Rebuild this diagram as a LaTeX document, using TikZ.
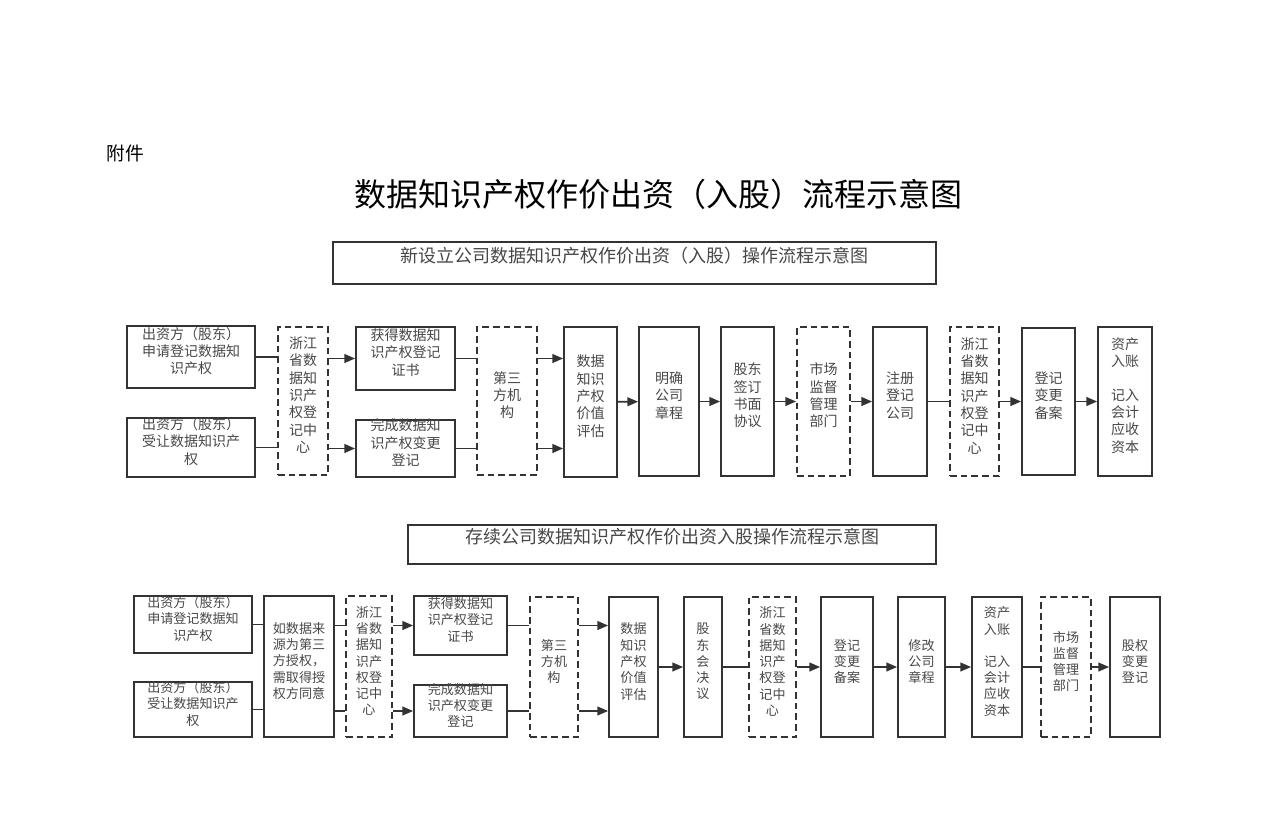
\documentclass[tikz,border=0pt]{standalone}
\usepackage{fontspec}
\setmainfont{Noto Sans CJK SC}
\usetikzlibrary{fit,arrows.meta}
\definecolor{ln}{HTML}{333333}
\begin{document}
\begin{tikzpicture}[x=0.75pt,y=-0.75pt,
 box/.style={draw=ln,line width=1.3pt,inner sep=0pt,align=center,font=\fontsize{10.5}{13}\selectfont,text=ln!90},
 dbox/.style={box,dashed,dash pattern=on 5pt off 3pt},
 sbox/.style={box,font=\fontsize{9.8}{12.2}\selectfont},
 sdbox/.style={dbox,font=\fontsize{9.8}{12.2}\selectfont},
 ln/.style={draw=ln,line width=1.3pt},
 arr/.style={ln,-{Triangle[length=8pt,width=6.5pt]}}]
\useasboundingbox (0,0) rectangle (1273,834);
\node[anchor=west,font=\fontsize{14}{16}\selectfont] (fj) at (102,153) {附件};
\node[font=\fontsize{24}{28}\selectfont] (title) at (658,194) {数据知识产权作价出资（入股）流程示意图};
\node[box,font=\fontsize{13.5}{16}\selectfont,fit={(333,242)(936,284)}] (h1) {新设立公司数据知识产权作价出资（入股）操作流程示意图};
\node[box,font=\fontsize{13.5}{16}\selectfont,fit={(408,525)(936,564)}] (h2) {存续公司数据知识产权作价出资入股操作流程示意图};
% top row
\node[box,fit={(127,326)(255,388)}] (a1) {出资方（股东）\\申请登记数据知\\识产权};
\node[box,fit={(127,418)(255,477)}] (a2) {出资方（股东）\\受让数据知识产\\权};
\node[dbox,fit={(278,327)(328,475)}] (a3) {浙江\\省数\\据知\\识产\\权登\\记中\\心};
\node[box,fit={(356,327)(455,390)}] (a4) {获得数据知\\识产权登记\\证书};
\node[box,fit={(356,420)(455,477)}] (a5) {完成数据知\\识产权变更\\登记};
\node[dbox,fit={(477,327)(537,475)}] (a6) {第三\\方机\\构};
\node[box,fit={(564,327)(617,477)}] (a7) {数据\\知识\\产权\\价值\\评估};
\node[box,fit={(639,327)(699,476)}] (a8) {明确\\公司\\章程};
\node[box,fit={(721,327)(774,476)}] (a9) {股东\\签订\\书面\\协议};
\node[dbox,fit={(797,327)(850,476)}] (a10) {市场\\监督\\管理\\部门};
\node[box,fit={(873,327)(927,476)}] (a11) {注册\\登记\\公司};
\node[dbox,fit={(950,327)(999,476)}] (a12) {浙江\\省数\\据知\\识产\\权登\\记中\\心};
\node[box,fit={(1022,328)(1075,475)}] (a13) {登记\\变更\\备案};
\node[box,fit={(1098,327)(1152,476)}] (a14) {资产\\入账\\[12pt]记入\\会计\\应收\\资本};
\draw[ln] (a1.east) -- (a1.east -| a3.west);
\draw[ln] (a2.east) -- (a2.east -| a3.west);
\draw[arr] (a3.east |- a4.west) -- (a4.west);
\draw[arr] (a3.east |- a5.west) -- (a5.west);
\draw[ln] (a4.east) -- (a4.east -| a6.west);
\draw[ln] (a5.east) -- (a5.east -| a6.west);
\draw[arr] (a6.east |- a4.west) -- (a4.west -| a7.west);
\draw[arr] (a6.east |- a5.west) -- (a5.west -| a7.west);
\draw[arr] (a7) -- (a8);
\draw[arr] (a8) -- (a9);
\draw[arr] (a9) -- (a10);
\draw[arr] (a10) -- (a11);
\draw[ln] (a11) -- (a12);
\draw[arr] (a12) -- (a13);
\draw[arr] (a13) -- (a14);
% bottom row
\node[sbox,fit={(134,596)(252,653)}] (b1) {出资方（股东）\\申请登记数据知\\识产权};
\node[sbox,fit={(134,682)(252,737)}] (b2) {出资方（股东）\\受让数据知识产\\权};
\node[sbox,fit={(264,596)(334,737)}] (b3) {如数据来\\源为第三\\方授权，\\需取得授\\权方同意};
\node[sdbox,fit={(346,596)(392,737)}] (b4) {浙江\\省数\\据知\\识产\\权登\\记中\\心};
\node[sbox,fit={(414,596)(507,655)}] (b5) {获得数据知\\识产权登记\\证书};
\node[sbox,fit={(414,685)(507,737)}] (b6) {完成数据知\\识产权变更\\登记};
\node[sdbox,fit={(530,597)(578,737)}] (b7) {第三\\方机\\构};
\node[sbox,fit={(609,597)(658,737)}] (b8) {数据\\知识\\产权\\价值\\评估};
\node[sbox,fit={(684,597)(722,737)}] (b9) {股\\东\\会\\决\\议};
\node[sdbox,fit={(749,597)(796,737)}] (b10) {浙江\\省数\\据知\\识产\\权登\\记中\\心};
\node[sbox,fit={(821,597)(873,737)}] (b11) {登记\\变更\\备案};
\node[sbox,fit={(898,597)(945,737)}] (b12) {修改\\公司\\章程};
\node[sbox,fit={(972,597)(1022,737)}] (b13) {资产\\入账\\[12pt]记入\\会计\\应收\\资本};
\node[sdbox,fit={(1041,597)(1091,737)}] (b14) {市场\\监督\\管理\\部门};
\node[sbox,fit={(1110,597)(1160,737)}] (b15) {股权\\变更\\登记};
\draw[ln] (b1.east) -- (b1.east -| b3.west);
\draw[ln] (b2.east) -- (b2.east -| b3.west);
\draw[ln] (b3.east |- b5.west) -- (b5.west -| b4.west);
\draw[ln] (b3.east |- b6.west) -- (b6.west -| b4.west);
\draw[arr] (b4.east |- b5.west) -- (b5.west);
\draw[arr] (b4.east |- b6.west) -- (b6.west);
\draw[ln] (b5.east) -- (b5.east -| b7.west);
\draw[ln] (b6.east) -- (b6.east -| b7.west);
\draw[arr] (b7.east |- b5.west) -- (b5.west -| b8.west);
\draw[arr] (b7.east |- b6.west) -- (b6.west -| b8.west);
\draw[arr] (b8) -- (b9);
\draw[ln] (b9) -- (b10);
\draw[arr] (b10) -- (b11);
\draw[arr] (b11) -- (b12);
\draw[arr] (b12) -- (b13);
\draw[ln] (b13) -- (b14);
\draw[arr] (b14) -- (b15);
\end{tikzpicture}
\end{document}
